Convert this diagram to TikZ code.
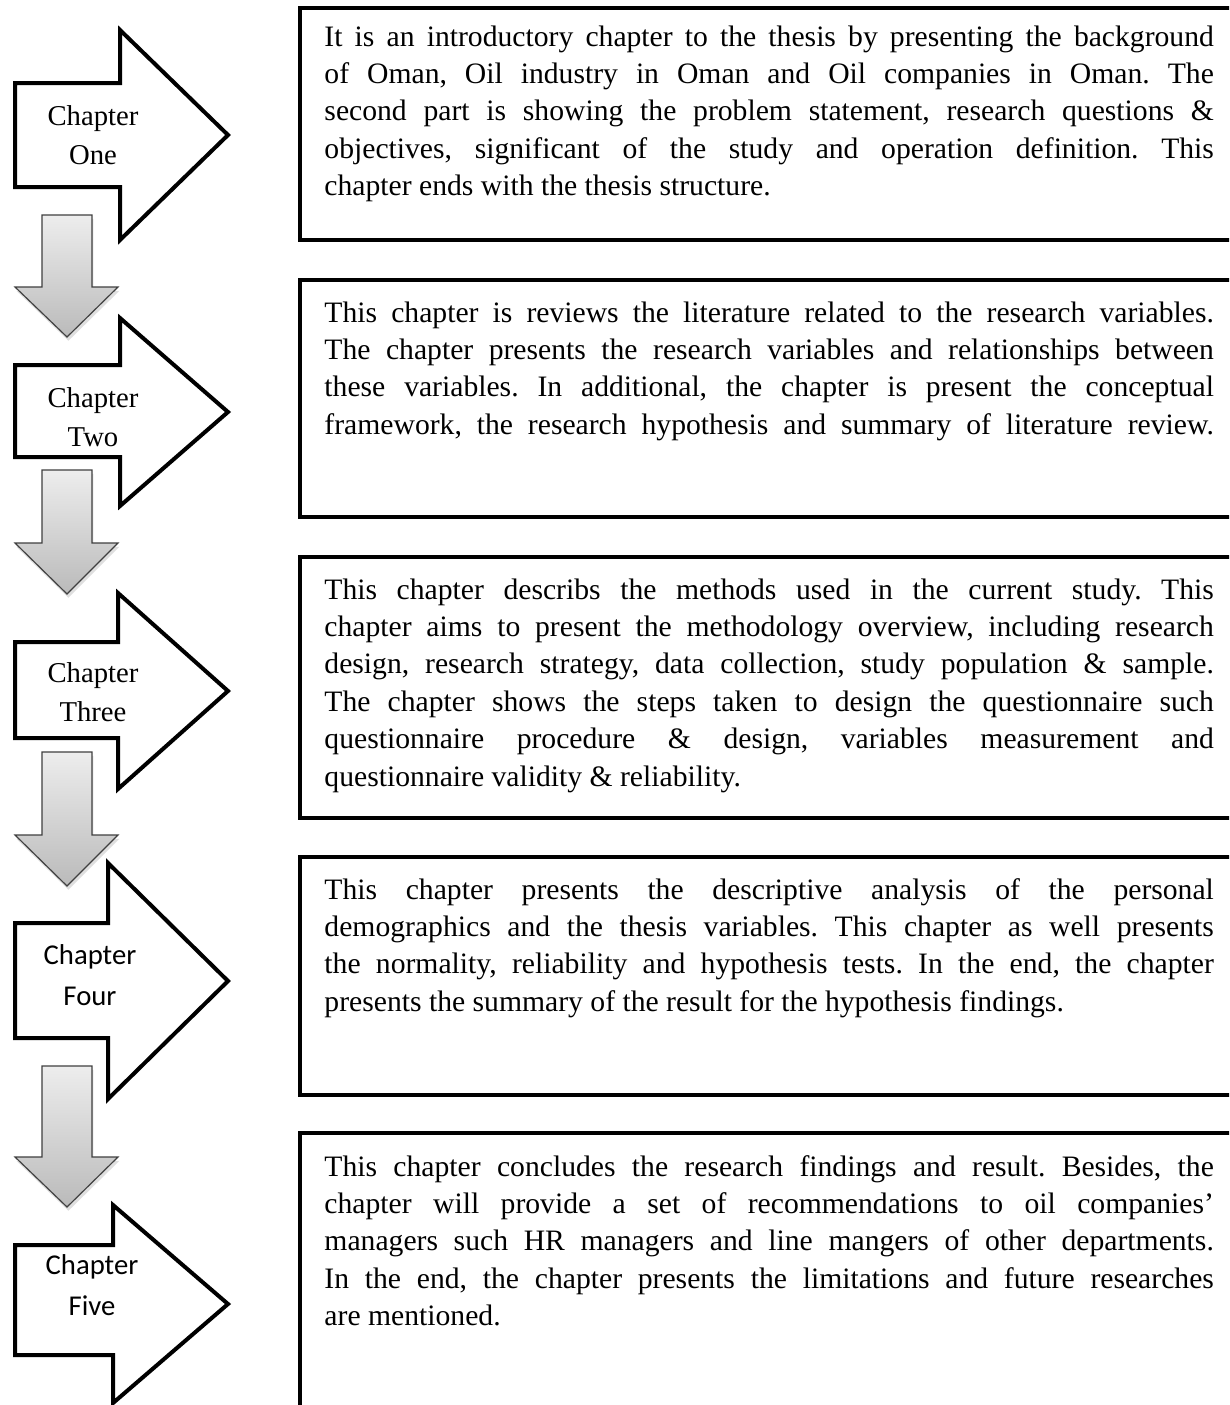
\documentclass[tikz,border=0pt]{standalone}
\usepackage{fontspec}
\setmainfont{Liberation Serif}
\newfontfamily\calibrifont{Carlito}
\usetikzlibrary{shadows}
\frenchspacing
\newcommand{\jline}[1]{\hbox to\hsize{\spaceskip=0.25em plus 1fil minus 0.06em\xspaceskip=\spaceskip #1}}
\newcommand{\lline}[1]{\hbox{\spaceskip=0.25em\xspaceskip=\spaceskip #1}}
\newcommand{\chaparrow}[6]{%
  \path[rarrow] (15,#3) -- (#1,#3) -- (#1,#2) -- (228,#4) -- (#1,#6) -- (#1,#5) -- (15,#5) -- cycle;}
\newcommand{\downarrowshape}[3]{%
  \path[darrow] (42,#1) -- (92,#1) -- (92,#2) -- (118,#2) -- (67,#3) -- (15,#2) -- (42,#2) -- cycle;}
\begin{document}
\begin{tikzpicture}[x=0.425pt,y=-0.425pt,
  rarrow/.style={draw=black, line width=1.7pt, fill=white, line join=miter},
  darrow/.style={draw=black!75, line width=0.5pt, top color=black!7, bottom color=black!27,
     drop shadow={opacity=0.25, shadow xshift=0.6pt, shadow yshift=-1.6pt}},
  tbox/.style={draw=black, line width=1.7pt},
  btext/.style={anchor=base west, inner sep=0pt, text width=378pt,
     font=\fontsize{12.6}{15.9}\selectfont},
  clabel/.style={align=center, inner sep=0pt, font=\fontsize{12.2}{16.8}\selectfont}]
\clip (0,0) rectangle (1229,1405);
\fill[white] (0,0) rectangle (1229,1405);

% text boxes
\draw[tbox] (300,8) rectangle (1260,240);
\draw[tbox] (300,280) rectangle (1260,517);
\draw[tbox] (300,557) rectangle (1260,818);
\draw[tbox] (300,857) rectangle (1260,1095);
\draw[tbox] (300,1133) rectangle (1260,1440);

\node[btext] (t1) at (324,46) {%
\jline{It is an introductory chapter to the thesis by presenting the background}
\jline{of Oman, Oil industry in Oman and Oil companies in Oman. The}
\jline{second part is showing the problem statement, research questions \&}
\jline{objectives, significant of the study and operation definition. This}
\lline{chapter ends with the thesis structure.}};

\node[btext] (t2) at (324,322) {%
\jline{This chapter is reviews the literature related to the research variables.}
\jline{The chapter presents the research variables and relationships between}
\jline{these variables. In additional, the chapter is present the conceptual}
\jline{framework, the research hypothesis and summary of literature review.}};

\node[btext] (t3) at (324,599) {%
\jline{This chapter describs the methods used in the current study. This}
\jline{chapter aims to present the methodology overview, including research}
\jline{design, research strategy, data collection, study population \& sample.}
\jline{The chapter shows the steps taken to design the questionnaire such}
\jline{questionnaire procedure \& design, variables measurement and}
\lline{questionnaire validity \& reliability.}};

\node[btext] (t4) at (324,899) {%
\jline{This chapter presents the descriptive analysis of the personal}
\jline{demographics and the thesis variables. This chapter as well presents}
\jline{the normality, reliability and hypothesis tests. In the end, the chapter}
\lline{presents the summary of the result for the hypothesis findings.}};

\node[btext] (t5) at (324,1176) {%
\jline{This chapter concludes the research findings and result. Besides, the}
\jline{chapter will provide a set of recommendations to oil companies’}
\jline{managers such HR managers and line mangers of other departments.}
\jline{In the end, the chapter presents the limitations and future researches}
\lline{are mentioned.}};

% chapter arrows
\chaparrow{120}{30}{83}{135}{187}{240}
\node[clabel] (c1) at (93,135) {Chapter\\One};
\chaparrow{120}{318}{365}{412}{457}{506}
\node[clabel] (c2) at (93,417) {Chapter\\Two};
\chaparrow{118}{593}{642}{691}{738}{789}
\node[clabel] (c3) at (93,692) {Chapter\\Three};
\chaparrow{108}{863}{923}{981}{1038}{1099}
\node[clabel, font=\calibrifont\fontsize{12.2}{17.5}\selectfont] (c4) at (90,975) {Chapter\\Four};
\chaparrow{113}{1205}{1245}{1304}{1355}{1403}
\node[clabel, font=\calibrifont\fontsize{12.2}{17.5}\selectfont] (c5) at (92,1285) {Chapter\\Five};

% down arrows
\downarrowshape{215}{287}{337}
\downarrowshape{470}{543}{594}
\downarrowshape{752}{835}{886}
\downarrowshape{1066}{1157}{1207}
\end{tikzpicture}
\end{document}
